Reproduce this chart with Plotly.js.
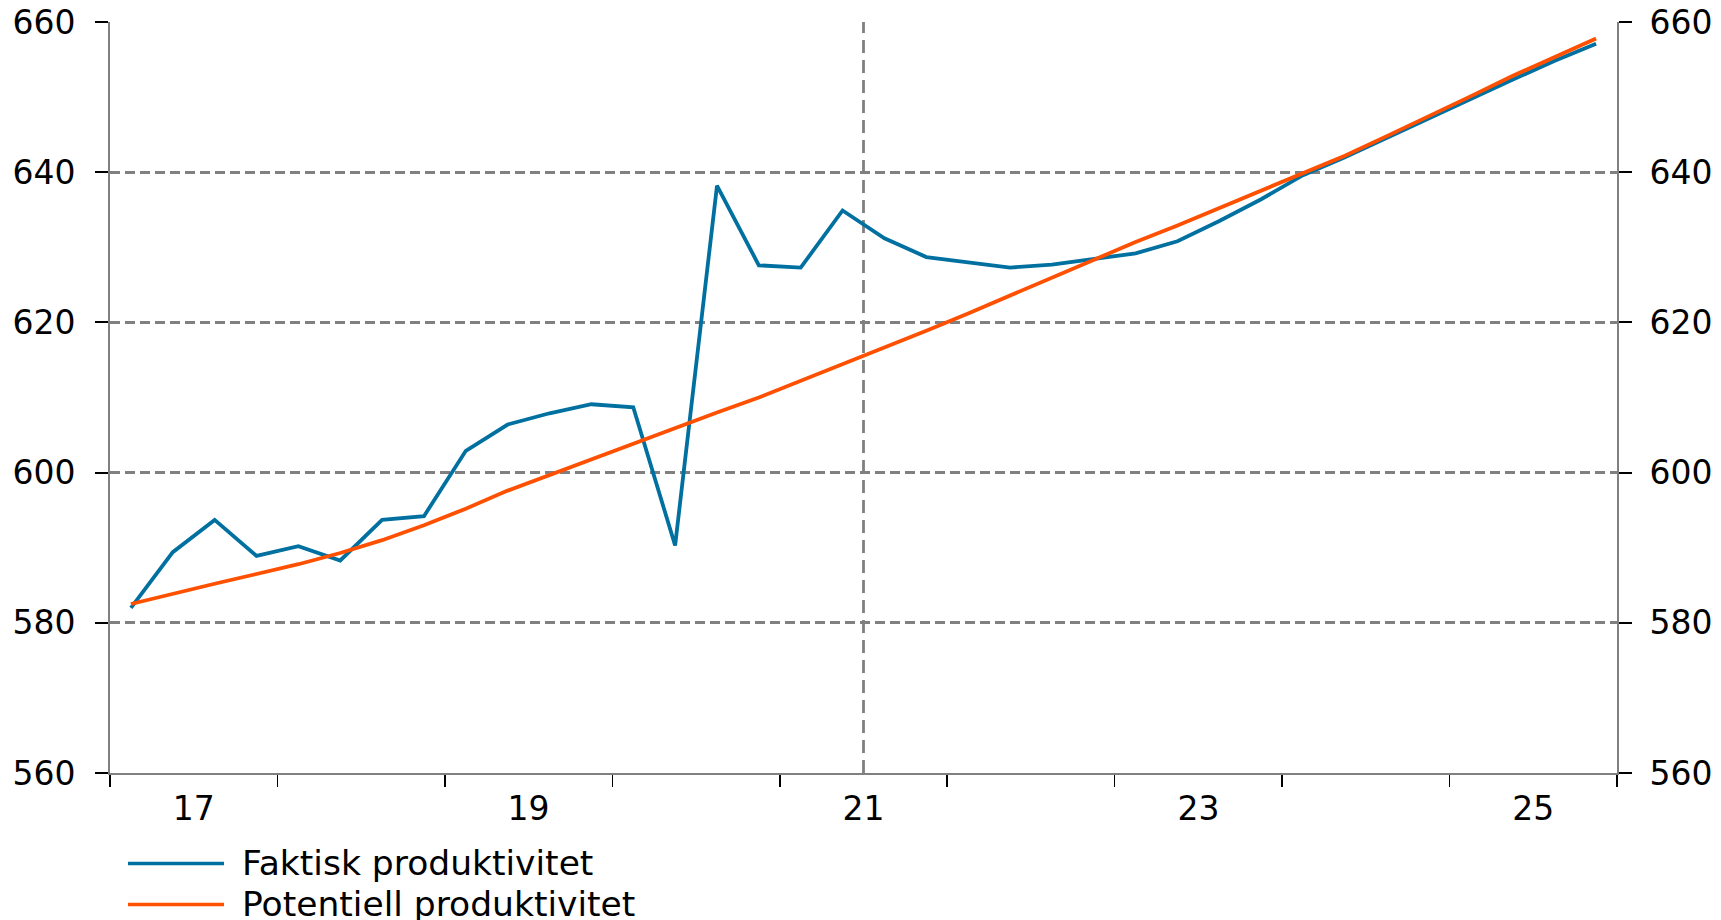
<!DOCTYPE html>
<html>
<head>
<meta charset="utf-8">
<script src="https://cdn.plot.ly/plotly-3.0.1.min.js"></script>
<style>
  html, body { margin: 0; padding: 0; background: #ffffff; }
  #chart { width: 1721px; height: 920px; }
</style>
</head>
<body>
<div id="chart"></div>
<script>
// Quarters (categories)
const quarters = [
  "2017K1","2017K2","2017K3","2017K4",
  "2018K1","2018K2","2018K3","2018K4",
  "2019K1","2019K2","2019K3","2019K4",
  "2020K1","2020K2","2020K3","2020K4",
  "2021K1","2021K2","2021K3","2021K4",
  "2022K1","2022K2","2022K3","2022K4",
  "2023K1","2023K2","2023K3","2023K4",
  "2024K1","2024K2","2024K3","2024K4",
  "2025K1","2025K2","2025K3","2025K4"
];

// Series values
const faktisk = [
  582.0, 589.4, 593.7, 588.9,
  590.2, 588.3, 593.7, 594.2,
  602.9, 606.4, 607.9, 609.1,
  608.7, 590.3, 638.2, 627.6,
  627.3, 634.9, 631.2, 628.7,
  628.0, 627.3, 627.7, 628.4,
  629.2, 630.8, 633.5, 636.4,
  639.6, 642.0, 644.6, 647.2,
  649.8, 652.3, 654.8, 657.1
];
const potentiell = [
  582.5, 583.9, 585.2, 586.5,
  587.8, 589.3, 591.0, 593.0,
  595.2, 597.6, 599.7, 601.8,
  603.9, 606.0, 608.0, 610.0,
  612.2, 614.4, 616.6, 618.9,
  621.2, 623.6, 626.0, 628.4,
  630.7, 632.9, 635.2, 637.6,
  639.9, 642.2, 644.8, 647.4,
  650.1, 652.8, 655.3, 657.8
];

// Tick labels
const yearLabels = ["17", "19", "21", "23", "25"];
const labelYears = [2017, 2019, 2021, 2023, 2025];
const yearBoundaries = [2017, 2018, 2019, 2020, 2021, 2022, 2023, 2024, 2025, 2026];
const yTicks = [560, 580, 600, 620, 640, 660];

const seriesNames = ["Faktisk produktivitet", "Potentiell produktivitet"];
const seriesColors = ["#0070A0", "#FF5000"];

// quarter label -> position on a continuous year axis (centre of quarter)
function qPos(q) {
  const y = parseInt(q.slice(0, 4), 10);
  const k = parseInt(q.slice(5), 10);
  return y + (k - 0.5) / 4;
}
const xPos = quarters.map(qPos);

const FONT = "DejaVu Sans, Verdana, sans-serif";
const FS = 33;
const LFS = 34.5;

const traces = [
  {
    x: xPos, y: faktisk, name: seriesNames[0], type: "scatter", mode: "lines",
    line: { color: seriesColors[0], width: 3.8 }, showlegend: false,
    text: quarters, hovertemplate: "%{text}: %{y}<extra></extra>"
  },
  {
    x: xPos, y: potentiell, name: seriesNames[1], type: "scatter", mode: "lines",
    line: { color: seriesColors[1], width: 3.8 }, showlegend: false,
    text: quarters, hovertemplate: "%{text}: %{y}<extra></extra>"
  }
];

const L = 110, R = 104, T = 22, B = 147;
const W = 1721, H = 920;
const pw = W - L - R, ph = H - T - B;
const px = v => (v - L) / pw;
const py = v => (H - B - v) / ph;

const legendShapes = [];
const legendAnn = [];
[863.5, 904.5].forEach((yy, i) => {
  legendShapes.push({
    type: "line", xref: "paper", yref: "paper",
    x0: px(128), x1: px(224), y0: py(yy), y1: py(yy),
    line: { color: seriesColors[i], width: 3.6 }
  });
  legendAnn.push({
    xref: "paper", yref: "paper", x: px(240), y: py(yy),
    xanchor: "left", yanchor: "middle", showarrow: false,
    text: seriesNames[i], font: { family: FONT, size: LFS, color: "#000000" }
  });
});

const forecastStart = 2021.5;

const layout = {
  width: W, height: H,
  margin: { l: L, r: R, t: T, b: B, pad: 0 },
  paper_bgcolor: "#ffffff", plot_bgcolor: "#ffffff",
  showlegend: false,
  font: { family: FONT, size: FS, color: "#000000" },
  xaxis: {
    range: [yearBoundaries[0], yearBoundaries[yearBoundaries.length - 1]],
    tickmode: "array",
    tickvals: labelYears.map(y => y + 0.5),
    ticktext: yearLabels,
    ticks: "", showgrid: false, zeroline: false,
    showline: true, linecolor: "#808080", linewidth: 2,
    tickfont: { family: FONT, size: FS, color: "#000000" },
    ticklabelstandoff: 5,
    minor: {
      tickmode: "array", tickvals: yearBoundaries,
      ticks: "outside", ticklen: 12, tickwidth: 1.5, tickcolor: "#000000",
      showgrid: false
    },
    fixedrange: true
  },
  yaxis: {
    range: [560, 660], tickmode: "array", tickvals: yTicks,
    ticks: "outside", ticklen: 13, tickwidth: 2, tickcolor: "#000000",
    showgrid: true, gridcolor: "#808080", gridwidth: 3, griddash: "10px,5px",
    zeroline: false, showline: true, linecolor: "#808080", linewidth: 2,
    tickfont: { family: FONT, size: FS, color: "#000000" },
    ticklabelstandoff: 13,
    fixedrange: true
  },
  yaxis2: {
    overlaying: "y", side: "right", anchor: "x",
    range: [560, 660], tickmode: "array", tickvals: yTicks,
    ticks: "outside", ticklen: 13, tickwidth: 2, tickcolor: "#000000",
    showgrid: false, zeroline: false, showline: true, linecolor: "#808080", linewidth: 2,
    tickfont: { family: FONT, size: FS, color: "#000000" },
    ticklabelstandoff: 11,
    fixedrange: true
  },
  shapes: [
    {
      type: "line", xref: "x", yref: "paper", layer: "below",
      x0: forecastStart, x1: forecastStart, y0: 0, y1: 1,
      line: { color: "#808080", width: 2.8, dash: "13px,7px" }
    }
  ].concat(legendShapes),
  annotations: legendAnn
};

// invisible trace to make sure the right axis is drawn
traces.push({ x: [xPos[0]], y: [faktisk[0]], yaxis: "y2", type: "scatter", mode: "lines",
  showlegend: false, hoverinfo: "skip", line: { color: "rgba(0,0,0,0)" } });

Plotly.newPlot("chart", traces, layout, { displayModeBar: false, staticPlot: true });
</script>
</body>
</html>
